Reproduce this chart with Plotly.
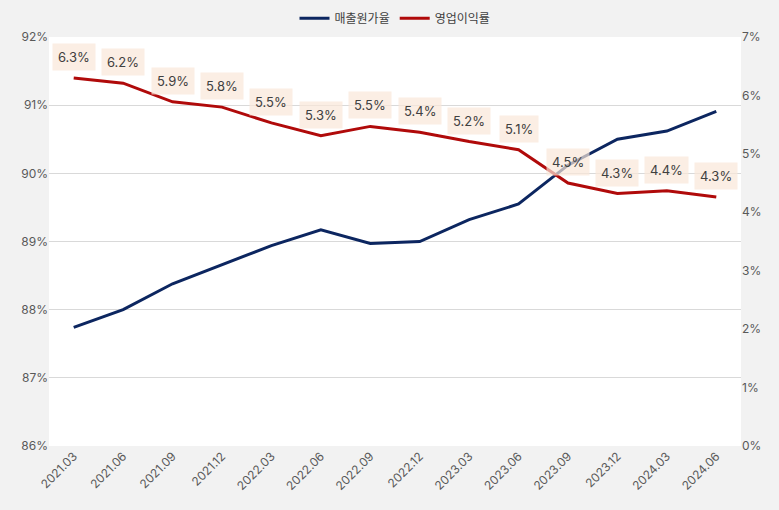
import plotly.graph_objects as go

quarters = ["2021.03", "2021.06", "2021.09", "2021.12", "2022.03", "2022.06", "2022.09",
            "2022.12", "2023.03", "2023.06", "2023.09", "2023.12", "2024.03", "2024.06"]
cost_ratio = [87.74, 88.00, 88.38, 88.66, 88.94, 89.17, 88.97, 89.00, 89.32, 89.55,
              90.12, 90.50, 90.62, 90.91]
op_margin = [6.30, 6.21, 5.89, 5.80, 5.53, 5.31, 5.47, 5.37, 5.21, 5.07, 4.50, 4.32, 4.37, 4.26]

FONT = "Inter, 'Noto Sans CJK KR', sans-serif"

fig = go.Figure()
fig.add_trace(go.Scatter(x=quarters, y=cost_ratio, name="매출원가율", mode="lines",
                         line=dict(color="#0c2660", width=3), yaxis="y"))
fig.add_trace(go.Scatter(x=quarters, y=op_margin, name="영업이익률", mode="lines",
                         line=dict(color="#b00a0a", width=3), yaxis="y2"))

for i, v in enumerate(op_margin):
    fig.add_annotation(x=i, y=v, xref="x", yref="y2", text=f"{v:.1f}%",
                       showarrow=False, yshift=21, bgcolor="rgba(250,231,216,0.7)",
                       borderpad=5, font=dict(size=13, color="#404040", family=FONT))

fig.update_layout(
    width=779, height=510,
    paper_bgcolor="#f2f2f2", plot_bgcolor="#ffffff",
    margin=dict(l=49, r=38, t=37, b=64, autoexpand=False),
    font=dict(family=FONT, size=12, color="#595959"),
    showlegend=True,
    legend=dict(orientation="h", x=0.5, xanchor="center", y=1.046, yanchor="middle",
                font=dict(size=12, color="#404040"), bgcolor="rgba(0,0,0,0)"),
    xaxis=dict(type="category", range=[-0.5, 13.5], tickangle=-45, showgrid=False,
               ticks="", showline=False, tickfont=dict(size=12, color="#595959")),
    yaxis=dict(range=[86, 92], dtick=1, ticksuffix="%", showgrid=True, gridcolor="#d9d9d9",
               zeroline=False, showline=False, tickfont=dict(size=12, color="#595959")),
    yaxis2=dict(range=[0, 7], dtick=1, ticksuffix="%", overlaying="y", side="right",
                showgrid=False, zeroline=False, showline=False,
                tickfont=dict(size=12, color="#595959")),
)

fig.write_html("out.html", config={"displayModeBar": False},
               post_script="document.body.style.margin='0';"
                           "document.body.style.background='#f2f2f2';")
